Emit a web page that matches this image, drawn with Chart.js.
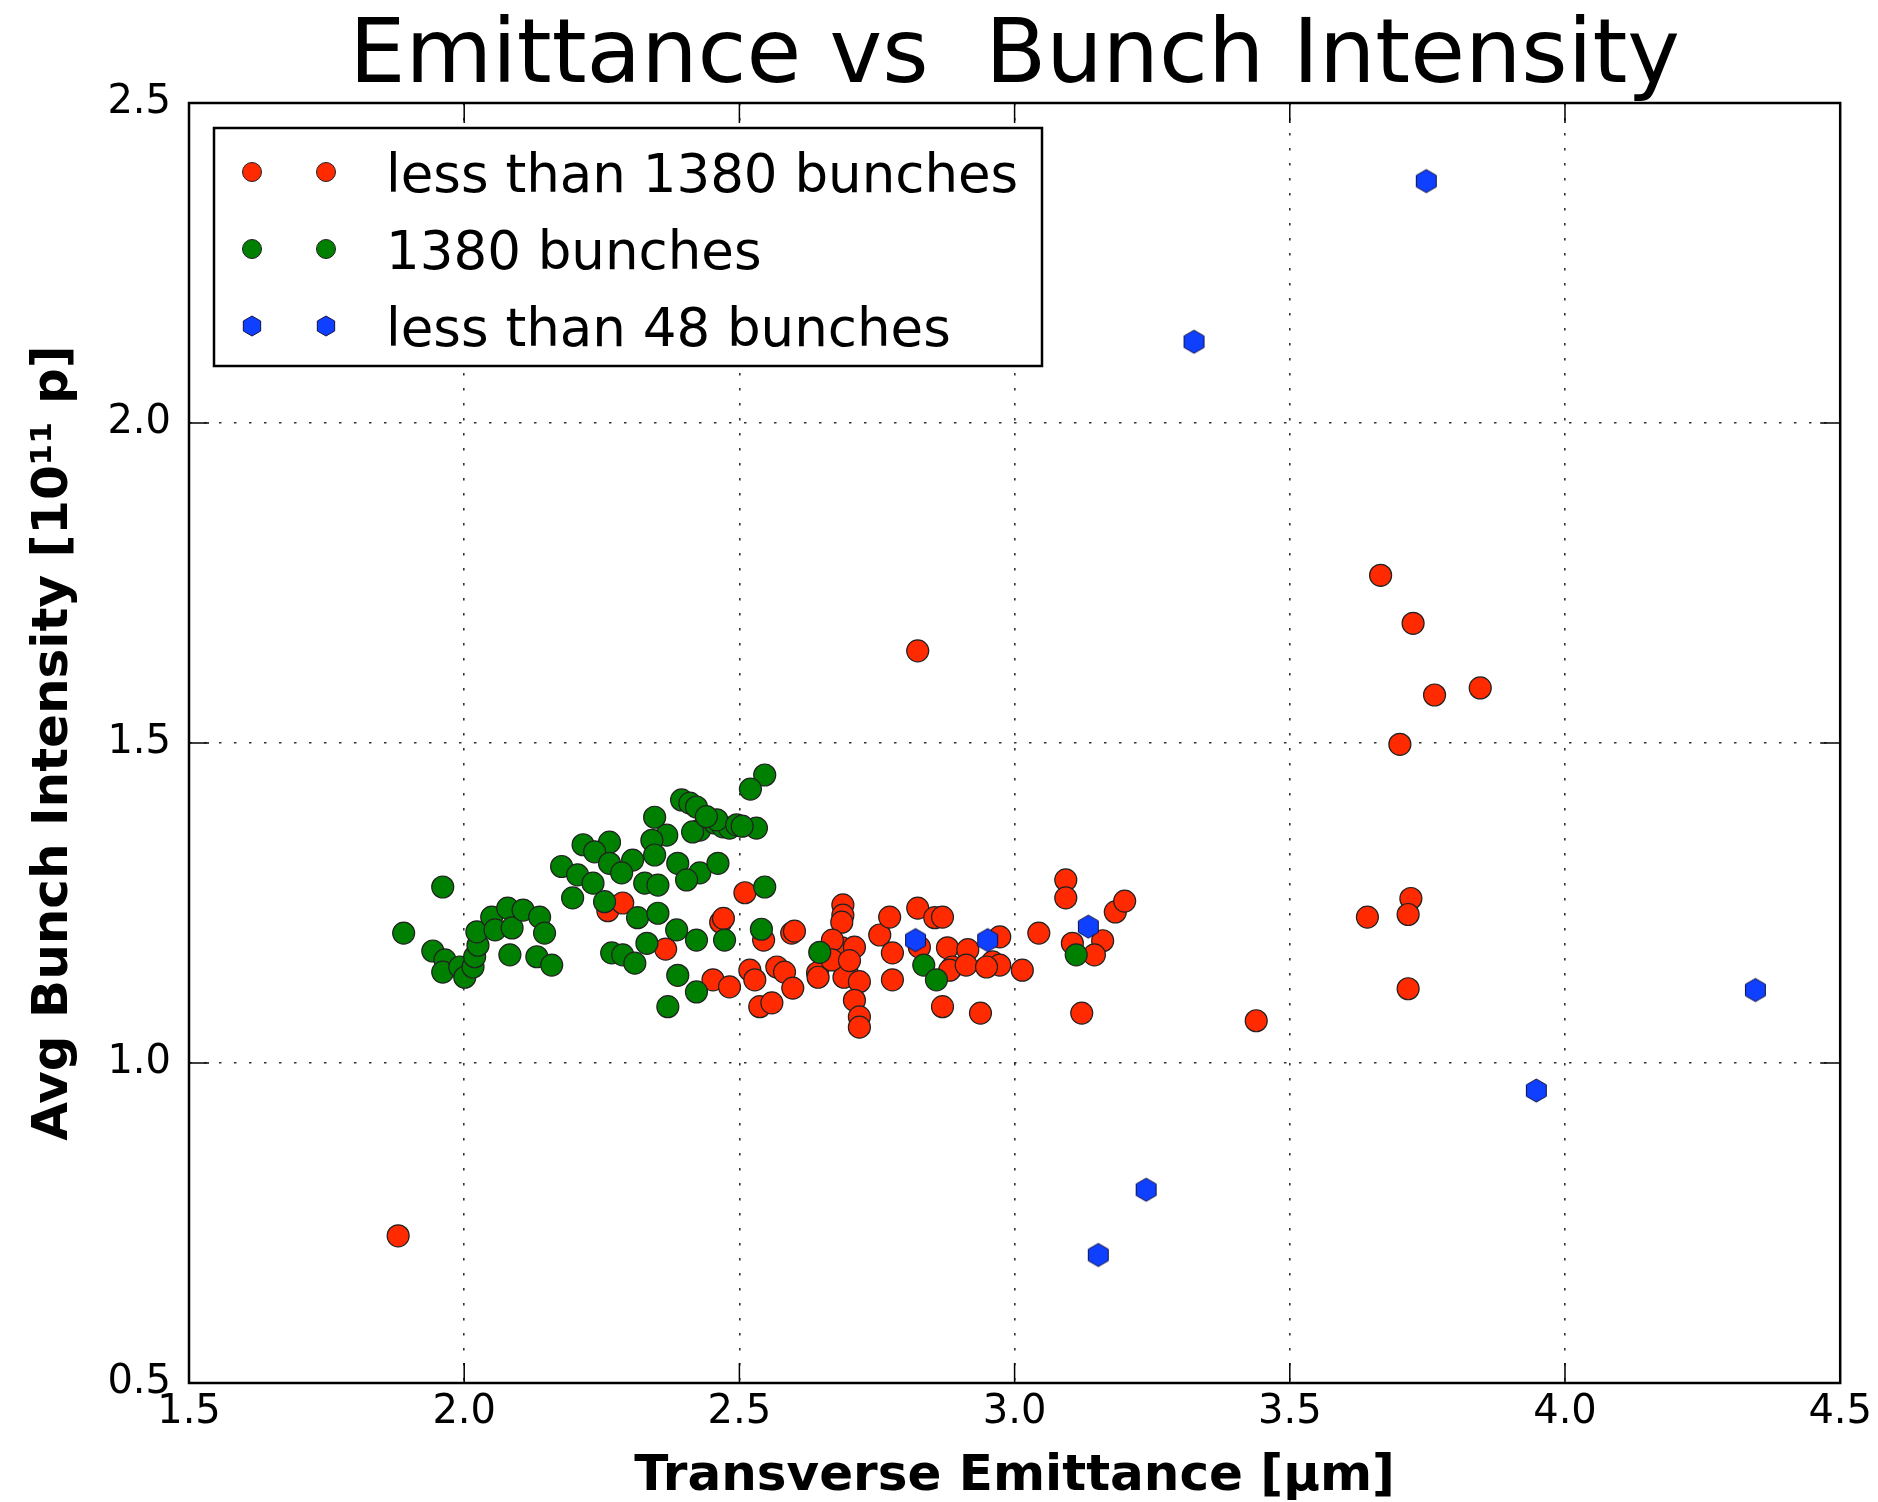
<!DOCTYPE html>
<html>
<head>
<meta charset="utf-8">
<title>Emittance vs Bunch Intensity</title>
<script src="https://cdn.jsdelivr.net/npm/chart.js@4.4.1/dist/chart.umd.min.js"></script>
<style>
  html, body { margin: 0; padding: 0; background: #fff; }
  canvas { display: block; }
</style>
</head>
<body>
<canvas id="chart" width="1878" height="1502"></canvas>
<script>
// series names, as in the legend
const seriesNames = ['less than 1380 bunches', '1380 bunches', 'less than 48 bunches'];
const seriesColors = ['#ff2a00', '#008000', '#1040ff'];

// less than 1380 bunches
const redX = [1.880, 2.824, 3.665, 3.724, 3.763, 3.846, 3.700, 3.641, 3.720, 3.715, 3.715, 3.439,
  2.510, 2.466, 2.471, 2.544, 2.595, 2.600, 2.452, 2.482, 2.519, 2.528, 2.568, 2.582, 2.597, 2.537, 2.559,
  2.688, 2.688, 2.686, 2.686, 2.709, 2.642, 2.643, 2.695, 2.690, 2.718, 2.709, 2.718, 2.718,
  2.755, 2.773, 2.778, 2.778, 2.827, 2.824, 2.855, 2.869, 2.869, 2.878, 2.887, 2.882, 2.915, 2.912,
  2.973, 2.960, 2.973, 2.949, 3.014, 2.938, 3.093, 3.093, 3.044, 3.105, 3.160, 3.145, 3.183, 3.200, 3.122,
  2.261, 2.288, 2.366, 2.669, 2.668, 2.700];
const redY = [0.730, 1.644, 1.762, 1.687, 1.575, 1.586, 1.498, 1.228, 1.257, 1.232, 1.116, 1.066,
  1.266, 1.220, 1.226, 1.192, 1.203, 1.206, 1.130, 1.119, 1.145, 1.130, 1.150, 1.142, 1.117, 1.088, 1.094,
  1.247, 1.231, 1.220, 1.180, 1.181, 1.141, 1.134, 1.145, 1.134, 1.127, 1.098, 1.072, 1.056,
  1.200, 1.228, 1.172, 1.130, 1.181, 1.242, 1.227, 1.228, 1.088, 1.180, 1.150, 1.145, 1.177, 1.153,
  1.197, 1.158, 1.153, 1.150, 1.145, 1.078, 1.286, 1.258, 1.203, 1.187, 1.191, 1.169, 1.236, 1.253, 1.078,
  1.238, 1.250, 1.178, 1.192, 1.161, 1.160];

// 1380 bunches
const greenX = [1.961, 1.890, 1.943, 1.965, 1.961, 1.992, 2.001, 2.016, 2.019, 2.025, 2.023, 2.050, 2.056,
  2.079, 2.087, 2.107, 2.137, 2.146, 2.083, 2.132, 2.159, 2.177,
  2.546, 2.520, 2.395, 2.410, 2.422, 2.428, 2.415, 2.455, 2.470, 2.482, 2.531, 2.459, 2.440, 2.495, 2.505,
  2.346, 2.368, 2.341, 2.346, 2.306, 2.264, 2.216, 2.237, 2.264, 2.206, 2.286, 2.388, 2.428, 2.461,
  2.404, 2.328, 2.352, 2.234, 2.197, 2.255, 2.315, 2.352, 2.386, 2.422, 2.473, 2.332, 2.268, 2.288,
  2.310, 2.388, 2.422, 2.370, 2.546, 2.540, 2.646, 2.835, 2.858, 3.112];
const greenY = [1.275, 1.203, 1.175, 1.161, 1.142, 1.150, 1.134, 1.150, 1.166, 1.184, 1.205, 1.228, 1.208,
  1.242, 1.211, 1.239, 1.228, 1.203, 1.169, 1.166, 1.153, 1.307,
  1.450, 1.428, 1.411, 1.406, 1.400, 1.364, 1.361, 1.375, 1.369, 1.367, 1.367, 1.380, 1.385, 1.372, 1.370,
  1.384, 1.356, 1.348, 1.325, 1.317, 1.345, 1.341, 1.330, 1.312, 1.294, 1.297, 1.312, 1.297, 1.312,
  1.286, 1.281, 1.278, 1.281, 1.258, 1.252, 1.227, 1.234, 1.208, 1.192, 1.192, 1.187, 1.172, 1.169,
  1.156, 1.137, 1.111, 1.088, 1.275, 1.209, 1.173, 1.153, 1.130, 1.169];

// less than 48 bunches
const blueX = [3.748, 3.326, 4.346, 3.948, 3.239, 3.152, 2.820, 2.951, 3.134];
const blueY = [2.378, 2.127, 1.114, 0.957, 0.802, 0.700, 1.192, 1.192, 1.213];

// axis ticks
const xTicks = [1.5, 2.0, 2.5, 3.0, 3.5, 4.0, 4.5];
const yTicks = [0.5, 1.0, 1.5, 2.0, 2.5];

const toPoints = (xs, ys) => xs.map((v, i) => ({ x: v, y: ys[i] }));

function hexagon(r, fill) {
  const size = Math.ceil(2 * r + 4);
  const c = document.createElement('canvas');
  c.width = size;
  c.height = size;
  const g = c.getContext('2d');
  g.beginPath();
  for (let i = 0; i < 6; i++) {
    const a = -Math.PI / 2 + i * Math.PI / 3;
    const px = size / 2 + r * Math.cos(a);
    const py = size / 2 + r * Math.sin(a);
    if (i === 0) g.moveTo(px, py); else g.lineTo(px, py);
  }
  g.closePath();
  g.fillStyle = fill;
  g.fill();
  g.strokeStyle = '#101040';
  g.lineWidth = 1;
  g.stroke();
  return c;
}

const hexBig = hexagon(11.5, seriesColors[2]);
const hexSmall = hexagon(10, seriesColors[2]);

// frame with inward ticks on all four sides, plus the matplotlib-like legend
const framePlugin = {
  id: 'frameAndLegend',
  afterDatasetsDraw(chart) {
    const { ctx, chartArea: a, scales: { x, y } } = chart;
    ctx.save();
    ctx.strokeStyle = '#000';
    ctx.lineWidth = 1.5;
    ctx.beginPath();
    x.ticks.forEach(t => {
      const px = x.getPixelForValue(t.value);
      ctx.moveTo(px, a.bottom); ctx.lineTo(px, a.bottom - 20);
      ctx.moveTo(px, a.top); ctx.lineTo(px, a.top + 20);
    });
    y.ticks.forEach(t => {
      const py = y.getPixelForValue(t.value);
      ctx.moveTo(a.left, py); ctx.lineTo(a.left + 20, py);
      ctx.moveTo(a.right, py); ctx.lineTo(a.right - 20, py);
    });
    ctx.stroke();
    ctx.lineWidth = 2.5;
    ctx.strokeRect(a.left, a.top, a.right - a.left, a.bottom - a.top);

    // legend
    const lx = a.left + 25, ly = a.top + 25, lw = 828, lh = 238;
    ctx.fillStyle = '#fff';
    ctx.fillRect(lx, ly, lw, lh);
    ctx.lineWidth = 2.5;
    ctx.strokeRect(lx, ly, lw, lh);
    ctx.font = '53px "DejaVu Sans"';
    ctx.textBaseline = 'alphabetic';
    ctx.textAlign = 'left';
    seriesNames.forEach((name, i) => {
      const cy = ly + 44 + i * 77;
      [lx + 38, lx + 112].forEach(mx => {
        if (i === 2) {
          ctx.drawImage(hexSmall, mx - hexSmall.width / 2, cy - hexSmall.height / 2);
        } else {
          ctx.beginPath();
          ctx.arc(mx, cy, 9.5, 0, Math.PI * 2);
          ctx.fillStyle = seriesColors[i];
          ctx.fill();
          ctx.lineWidth = 1;
          ctx.strokeStyle = '#222';
          ctx.stroke();
        }
      });
      ctx.fillStyle = '#000';
      ctx.fillText(name, lx + 172, cy + 20);
    });
    ctx.restore();
  }
};

const tickFont = { family: 'DejaVu Sans', size: 40 };
const labelFont = { family: 'DejaVu Sans', size: 50, weight: 'bold' };

new Chart(document.getElementById('chart'), {
  type: 'scatter',
  data: {
    datasets: [
      {
        label: seriesNames[0],
        data: toPoints(redX, redY),
        backgroundColor: seriesColors[0],
        borderColor: '#222',
        borderWidth: 1.2,
        pointRadius: 11,
        order: 3
      },
      {
        label: seriesNames[1],
        data: toPoints(greenX, greenY),
        backgroundColor: seriesColors[1],
        borderColor: '#222',
        borderWidth: 1.2,
        pointRadius: 11,
        order: 2
      },
      {
        label: seriesNames[2],
        data: toPoints(blueX, blueY),
        backgroundColor: seriesColors[2],
        pointStyle: hexBig,
        pointRadius: 11,
        order: 1
      }
    ]
  },
  options: {
    responsive: false,
    animation: false,
    devicePixelRatio: 1,
    layout: { padding: { left: 0, right: 36, top: 0, bottom: 0 } },
    plugins: {
      legend: { display: false },
      tooltip: { enabled: false },
      title: {
        display: true,
        fullSize: false,
        text: 'Emittance vs  Bunch Intensity',
        color: '#000',
        font: { family: 'DejaVu Sans', size: 89, weight: 'normal', lineHeight: 1.0 },
        padding: { top: 14, bottom: 0 }
      }
    },
    scales: {
      x: {
        type: 'linear',
        min: 1.5,
        max: 4.5,
        afterBuildTicks: s => { s.ticks = xTicks.map(v => ({ value: v })); },
        afterFit: s => { s.height = 119; },
        ticks: {
          callback: v => Number(v).toFixed(1),
          font: tickFont,
          color: '#000',
          padding: 6,
          maxRotation: 0,
          autoSkip: false
        },
        grid: { color: 'rgba(0,0,0,0.8)', lineWidth: 1.6, drawTicks: false, tickLength: 0 },
        border: { display: false, dash: [2.5, 12.5] },
        title: {
          display: true,
          text: 'Transverse Emittance [μm]',
          color: '#000',
          font: { ...labelFont, lineHeight: 1.0 },
          padding: { top: 0, bottom: 0 }
        }
      },
      y: {
        type: 'linear',
        min: 0.5,
        max: 2.5,
        afterBuildTicks: s => { s.ticks = yTicks.map(v => ({ value: v })); },
        afterFit: s => { s.width = 189; },
        ticks: {
          callback: v => Number(v).toFixed(1),
          font: tickFont,
          color: '#000',
          padding: 18,
          autoSkip: false
        },
        grid: { color: 'rgba(0,0,0,0.8)', lineWidth: 1.6, drawTicks: false, tickLength: 0 },
        border: { display: false, dash: [2.5, 12.5] },
        title: {
          display: true,
          text: 'Avg Bunch Intensity [10¹¹ p]',
          color: '#000',
          font: labelFont,
          padding: { top: 24, bottom: 0 }
        }
      }
    }
  },
  plugins: [framePlugin]
});
</script>
</body>
</html>
